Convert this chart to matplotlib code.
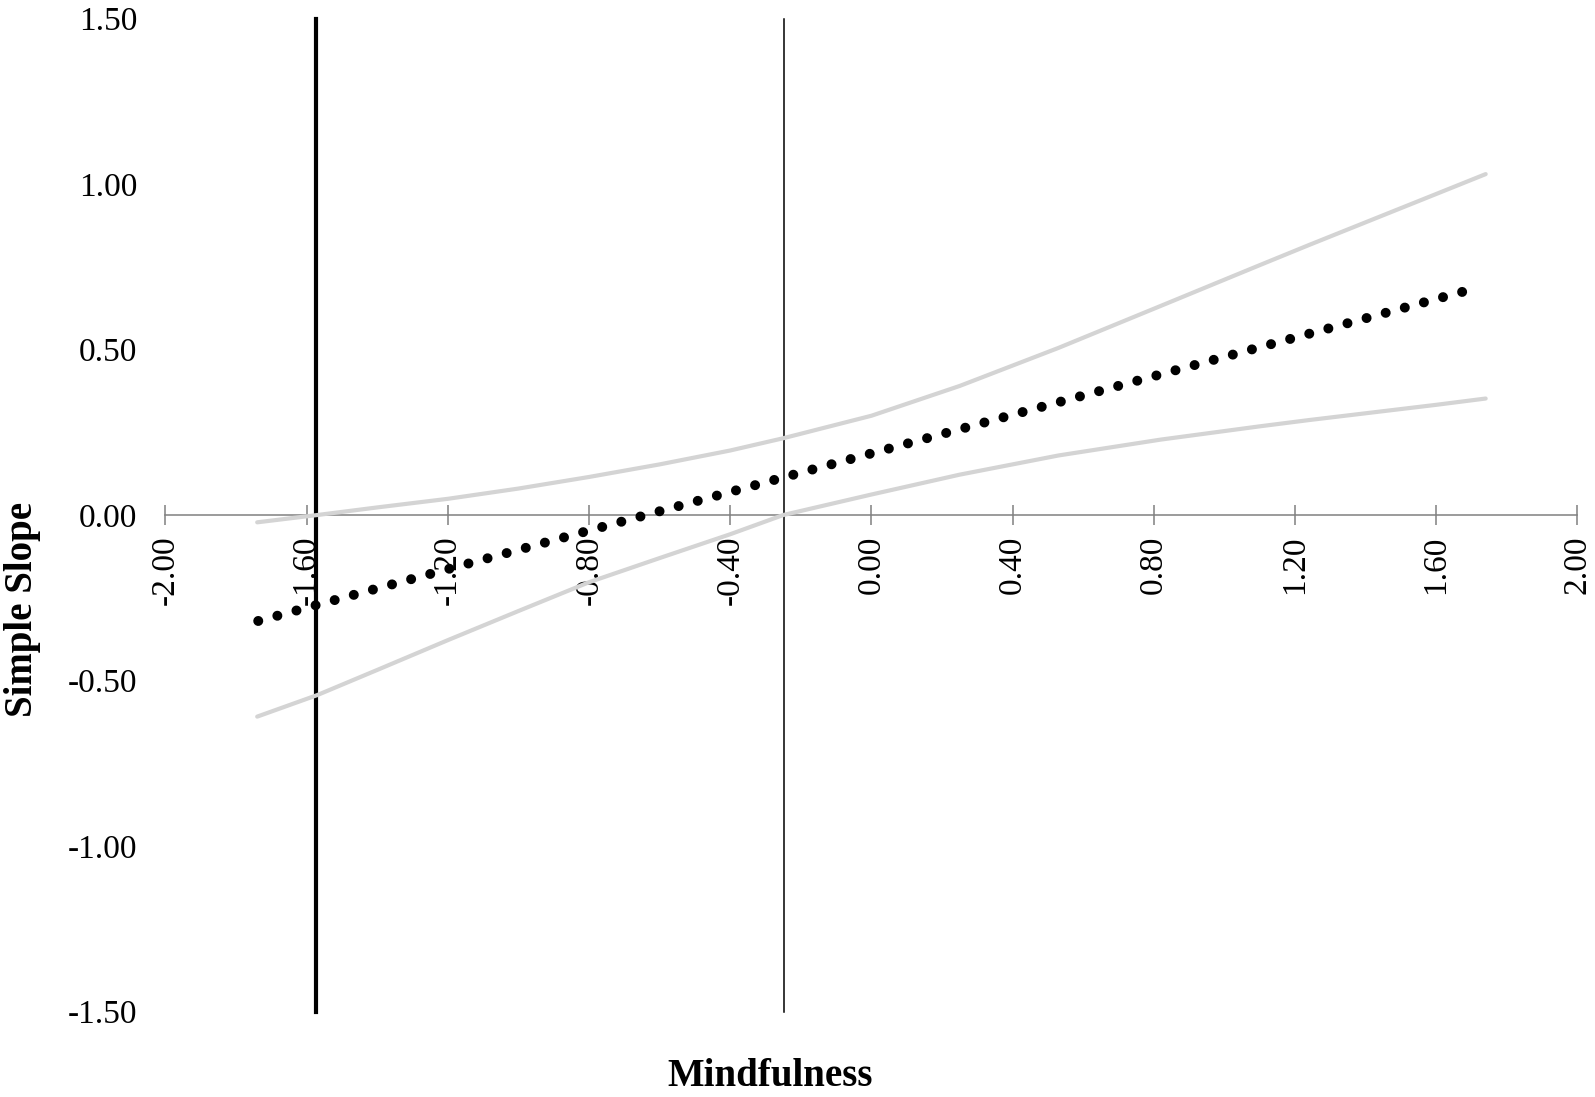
import matplotlib
matplotlib.use('Agg')
import matplotlib.pyplot as plt

plt.rcParams['font.family'] = ['Liberation Serif', 'DejaVu Serif']

# values
mod_x = [-1.74, -1.57, -1.40, -1.20, -1.00, -0.80, -0.60, -0.40, -0.25,
         0.00, 0.25, 0.53, 0.82, 1.10, 1.24, 1.60, 1.74]
ci_upper = [-0.022, 0.000, 0.023, 0.049, 0.080, 0.115, 0.153, 0.195, 0.232,
            0.300, 0.390, 0.505, 0.632, 0.755, 0.816, 0.970, 1.030]
ci_lower = [-0.609, -0.544, -0.468, -0.378, -0.290, -0.203, -0.130, -0.058, 0.000,
            0.062, 0.122, 0.180, 0.228, 0.268, 0.287, 0.333, 0.352]

est_x = [-1.737, 1.680]
est_y = [-0.320, 0.676]

jn_points = [-1.574, -0.247]
jn_widths = [3.0, 1.1]

x_ticks = [-2.0, -1.6, -1.2, -0.8, -0.4, 0.0, 0.4, 0.8, 1.2, 1.6, 2.0]
y_ticks = [-1.5, -1.0, -0.5, 0.0, 0.5, 1.0, 1.5]

fig = plt.figure(figsize=(15.95, 10.97), dpi=100)
ax = fig.add_axes([0.1037, 0.0779, 0.8853, 0.9052])

# Johnson-Neyman boundaries
for xv, lw in zip(jn_points, jn_widths):
    ax.plot([xv, xv], [-1.5, 1.5], color='black', linewidth=lw, zorder=2, clip_on=False)

# confidence band
ax.plot(mod_x, ci_upper, color='#d4d4d4', linewidth=3.0, solid_capstyle='round',
        solid_joinstyle='round', zorder=3)
ax.plot(mod_x, ci_lower, color='#d4d4d4', linewidth=3.0, solid_capstyle='round',
        solid_joinstyle='round', zorder=3)

# simple slope (dotted)
ax.plot(est_x, est_y, color='black', linewidth=7.2, linestyle=(0, (0.001, 1.98)),
        dash_capstyle='round', zorder=4)

ax.set_xlim(-2.0, 2.0)
ax.set_ylim(-1.5, 1.5)

for s in ['left', 'right', 'top']:
    ax.spines[s].set_visible(False)
ax.spines['bottom'].set_position(('data', 0))
ax.spines['bottom'].set_color('#808080')
ax.spines['bottom'].set_linewidth(1.1)

ax.set_xticks(x_ticks)
ax.set_xticklabels(['%.2f' % v for v in x_ticks], rotation=90)
ax.set_yticks(y_ticks)
ax.set_yticklabels(['%.2f' % v for v in y_ticks])

ax.tick_params(axis='x', direction='inout', length=14, width=1.1, color='#808080',
               pad=8, labelsize=24, labelcolor='black')
ax.tick_params(axis='y', length=0, pad=20, labelsize=24, labelcolor='black')

fig.text(0.014, 0.444, 'Simple Slope', rotation=90, fontsize=28, fontweight='bold',
         ha='center', va='center')
fig.text(0.483, 0.019, 'Mindfulness', fontsize=28, fontweight='bold',
         ha='center', va='center')

fig.savefig('out.png', dpi=100, facecolor='white')
